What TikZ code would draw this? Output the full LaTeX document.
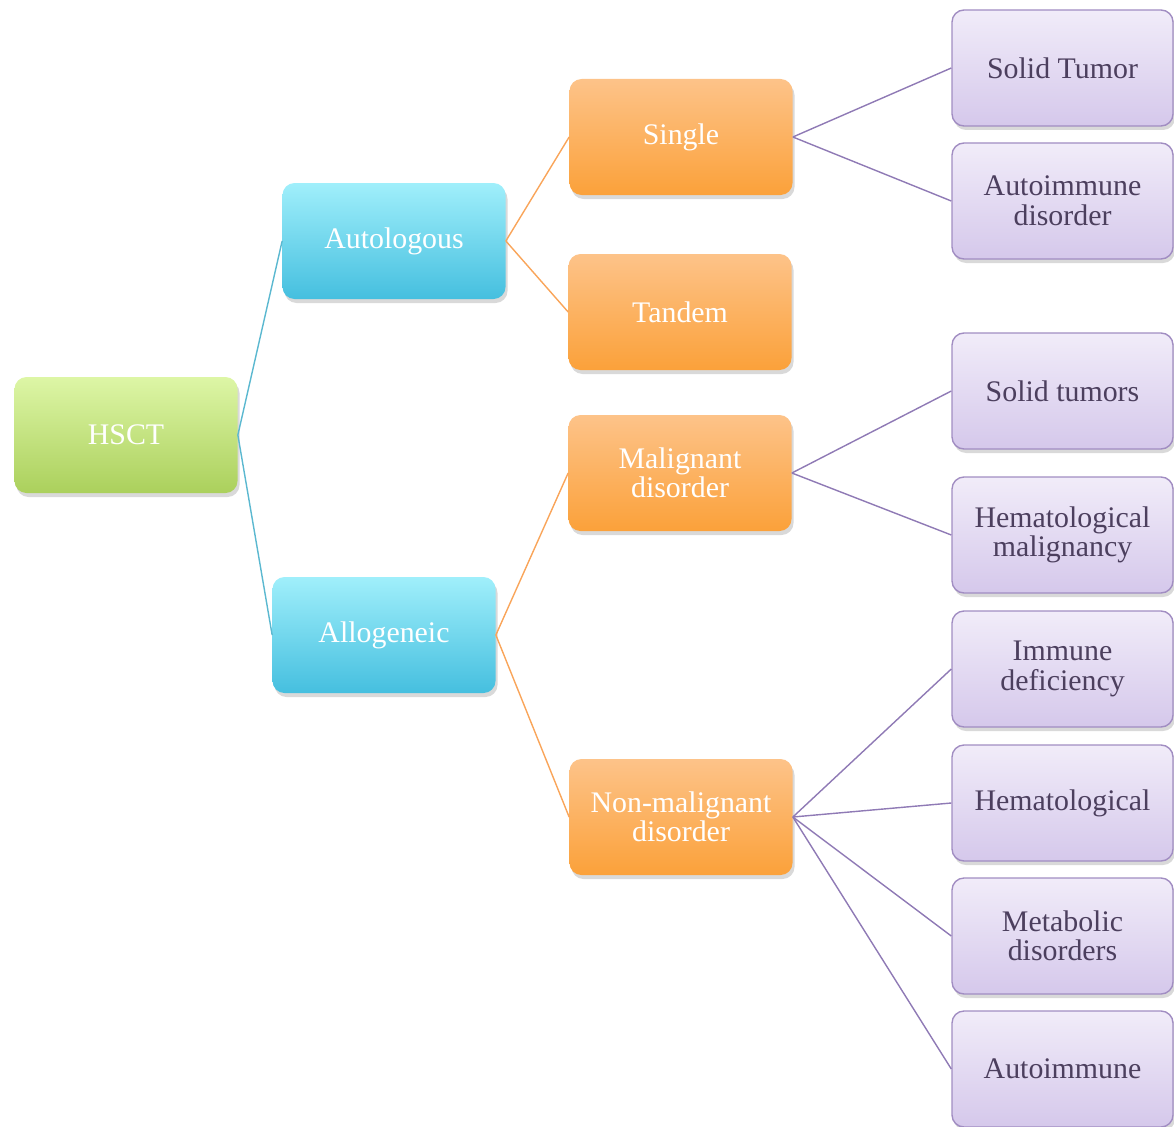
\documentclass[tikz,border=0pt]{standalone}
\usepackage{fontspec}
\setmainfont{Liberation Serif}
\usetikzlibrary{shadows}

\definecolor{greentop}{HTML}{DDF6A6}
\definecolor{greenbot}{HTML}{ABD05C}
\definecolor{cyantop}{HTML}{A0EFFB}
\definecolor{cyanbot}{HTML}{45BFDF}
\definecolor{orangetop}{HTML}{FDC389}
\definecolor{orangebot}{HTML}{FBA13A}
\definecolor{purpletop}{HTML}{F1ECF9}
\definecolor{purplebot}{HTML}{D5C8EB}
\definecolor{purpleedge}{HTML}{A18DC2}
\definecolor{purpletext}{HTML}{4C3F5E}
\definecolor{tealline}{HTML}{5BB8D0}
\definecolor{orangeline}{HTML}{F9A55A}
\definecolor{purpleline}{HTML}{8F7AB5}

\tikzset{
  box/.style={rounded corners=0.24cm, minimum width=4.46cm, minimum height=2.32cm,
    align=center, font=\fontsize{17}{16.8}\selectfont,
    drop shadow={opacity=0.3, shadow xshift=0.04cm, shadow yshift=-0.08cm}},
  rootbox/.style={box, top color=greentop, bottom color=greenbot, text=white},
  kindbox/.style={box, top color=cyantop, bottom color=cyanbot, text=white},
  typebox/.style={box, top color=orangetop, bottom color=orangebot, text=white},
  diseasebox/.style={box, minimum width=4.42cm, draw=purpleedge, line width=0.8pt,
    top color=purpletop, bottom color=purplebot, text=purpletext},
}

\begin{document}
\begin{tikzpicture}
  \useasboundingbox (0.00, 0.00) rectangle (23.48, -22.52);

  \node[rootbox] (hsct) at (2.52, -8.70) {HSCT};

  \node[kindbox] (auto) at (7.88, -4.82) {Autologous};
  \node[kindbox] (allo) at (7.68, -12.70) {Allogeneic};

  \node[typebox] (single) at (13.62, -2.74) {Single};
  \node[typebox] (tandem) at (13.60, -6.24) {Tandem};
  \node[typebox] (malig) at (13.60, -9.46) {Malignant\\disorder};
  \node[typebox] (nonmalig) at (13.62, -16.34) {Non-malignant\\disorder};

  \node[diseasebox] (solid1) at (21.25, -1.36) {Solid Tumor};
  \node[diseasebox] (autodis) at (21.25, -4.02) {Autoimmune\\disorder};
  \node[diseasebox] (solid2) at (21.25, -7.82) {Solid tumors};
  \node[diseasebox] (hemamal) at (21.25, -10.70) {Hematological\\malignancy};
  \node[diseasebox] (immune) at (21.25, -13.38) {Immune\\deficiency};
  \node[diseasebox] (hema) at (21.25, -16.06) {Hematological};
  \node[diseasebox] (metab) at (21.25, -18.72) {Metabolic\\disorders};
  \node[diseasebox] (autoim) at (21.25, -21.38) {Autoimmune};

  \draw[tealline, thick] (hsct.east) -- (auto.west);
  \draw[tealline, thick] (hsct.east) -- (allo.west);

  \draw[orangeline, thick] (auto.east) -- (single.west);
  \draw[orangeline, thick] (auto.east) -- (tandem.west);
  \draw[orangeline, thick] (allo.east) -- (malig.west);
  \draw[orangeline, thick] (allo.east) -- (nonmalig.west);

  \draw[purpleline, thick] (single.east) -- (solid1.west);
  \draw[purpleline, thick] (single.east) -- (autodis.west);
  \draw[purpleline, thick] (malig.east) -- (solid2.west);
  \draw[purpleline, thick] (malig.east) -- (hemamal.west);
  \draw[purpleline, thick] (nonmalig.east) -- (immune.west);
  \draw[purpleline, thick] (nonmalig.east) -- (hema.west);
  \draw[purpleline, thick] (nonmalig.east) -- (metab.west);
  \draw[purpleline, thick] (nonmalig.east) -- (autoim.west);
\end{tikzpicture}
\end{document}
